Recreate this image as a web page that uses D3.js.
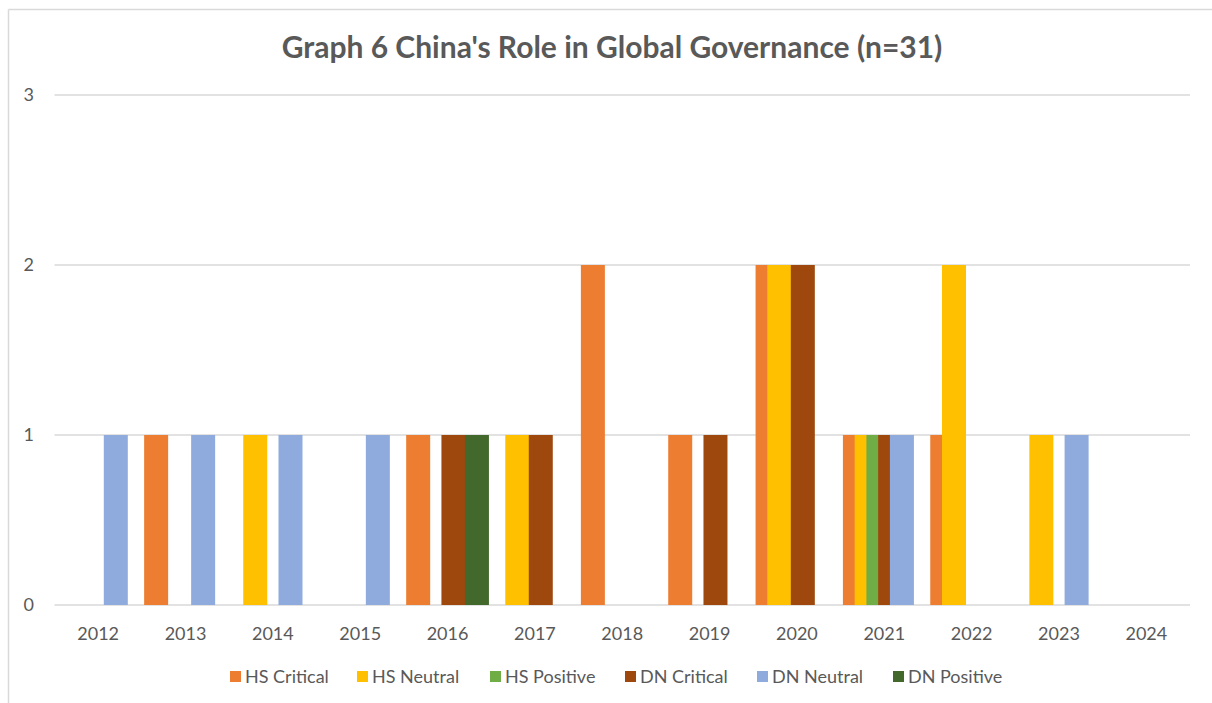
<!DOCTYPE html>
<meta charset="utf-8">
<style>
    body { margin: 0; background: #fff; }
    text { font-family: Lato, "Open Sans", sans-serif; fill: #595959; }
</style>
<body>
<script src="https://cdn.jsdelivr.net/npm/d3@7"></script>
<script>
    // chart data
    var years = ["2012", "2013", "2014", "2015", "2016", "2017", "2018", "2019", "2020", "2021", "2022", "2023", "2024"];
    var seriesNames = ["HS Critical", "HS Neutral", "HS Positive", "DN Critical", "DN Neutral", "DN Positive"];
    var hsCritical = [0, 1, 0, 0, 1, 0, 2, 1, 2, 1, 1, 0, 0];
    var hsNeutral  = [0, 0, 1, 0, 0, 1, 0, 0, 2, 1, 2, 1, 0];
    var hsPositive = [0, 0, 0, 0, 0, 0, 0, 0, 0, 1, 0, 0, 0];
    var dnCritical = [0, 0, 0, 0, 1, 1, 0, 1, 2, 1, 0, 0, 0];
    var dnNeutral  = [1, 1, 1, 1, 0, 0, 0, 0, 0, 1, 0, 1, 0];
    var dnPositive = [0, 0, 0, 0, 1, 0, 0, 0, 0, 0, 0, 0, 0];
    var yTicks = [0, 1, 2, 3];
    var colors = ["#ED7D31", "#FFC000", "#70AD47", "#9E480E", "#8FAADC", "#43682B"];

    var allSeries = [hsCritical, hsNeutral, hsPositive, dnCritical, dnNeutral, dnPositive];

    var width = 1212,
        height = 703;

    var svg = d3.select("body").append("svg")
        .attr("width", width)
        .attr("height", height);

    // chart border (only top and left edges show)
    svg.append("line").attr("x1", 8.5).attr("x2", width).attr("y1", 9.5).attr("y2", 9.5)
        .attr("stroke", "#d9d9d9").attr("stroke-width", 1.5);
    svg.append("line").attr("x1", 8.5).attr("x2", 8.5).attr("y1", 9.5).attr("y2", height)
        .attr("stroke", "#d9d9d9").attr("stroke-width", 1.5);

    var plotLeft = 54.5, plotRight = 1190, plotTop = 95, plotBottom = 605;

    var x = d3.scaleBand()
        .domain(years)
        .range([plotLeft, plotRight]);

    var y = d3.scaleLinear()
        .domain([0, 3])
        .range([plotBottom, plotTop]);

    // gridlines
    svg.append("g")
        .selectAll("line")
        .data(yTicks)
        .enter().append("line")
        .attr("x1", plotLeft)
        .attr("x2", plotRight)
        .attr("y1", function (d) { return y(d); })
        .attr("y2", function (d) { return y(d); })
        .attr("stroke", "#d9d9d9")
        .attr("stroke-width", 1.5);

    // bars overlap by ~half a bar width, like the Excel chart
    var barW = 24;
    var offset = 11.75;
    var groupW = offset * (seriesNames.length - 1) + barW;

    seriesNames.forEach(function (name, i) {
        svg.append("g")
            .selectAll("rect")
            .data(allSeries[i].map(function (v, j) { return { year: years[j], value: v }; })
                .filter(function (d) { return d.value > 0; }))
            .enter().append("rect")
            .attr("x", function (d) { return x(d.year) + (x.bandwidth() - groupW) / 2 + i * offset; })
            .attr("width", barW)
            .attr("y", function (d) { return y(d.value); })
            .attr("height", function (d) { return y(0) - y(d.value); })
            .attr("fill", colors[i]);
    });

    // y labels
    svg.append("g")
        .selectAll("text")
        .data(yTicks)
        .enter().append("text")
        .attr("x", 34)
        .attr("y", function (d) { return y(d) + 6; })
        .attr("text-anchor", "end")
        .style("font-size", "18px")
        .text(function (d) { return d; });

    // x labels
    svg.append("g")
        .selectAll("text")
        .data(years)
        .enter().append("text")
        .attr("x", function (d) { return x(d) + x.bandwidth() / 2; })
        .attr("y", 640)
        .attr("text-anchor", "middle")
        .style("font-size", "18px")
        .text(function (d) { return d; });

    // title
    svg.append("text")
        .attr("x", 612)
        .attr("y", 58)
        .attr("text-anchor", "middle")
        .style("font-size", "30px")
        .style("font-weight", "bold")
        .text("Graph 6 China's Role in Global Governance (n=31)");

    // legend
    var legendX = [230, 357, 490, 625, 757, 893];
    var legend = svg.append("g")
        .selectAll("g")
        .data(seriesNames)
        .enter().append("g")
        .attr("transform", function (d, i) { return "translate(" + legendX[i] + ",671)"; });

    legend.append("rect")
        .attr("width", 11)
        .attr("height", 11)
        .attr("fill", function (d, i) { return colors[i]; });

    legend.append("text")
        .attr("x", 15)
        .attr("y", 12)
        .style("font-size", "18px")
        .text(function (d) { return d; });
</script>
</body>
